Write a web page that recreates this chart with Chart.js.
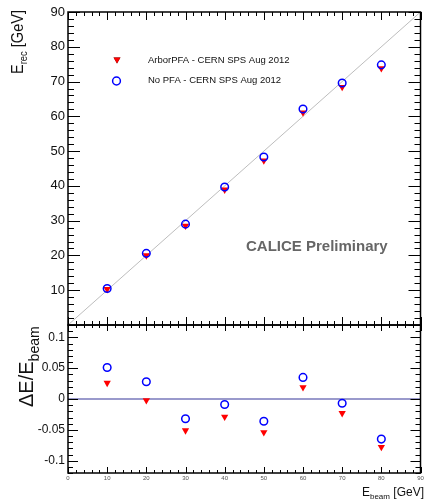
<!DOCTYPE html>
<html>
<head>
<meta charset="utf-8">
<script src="https://cdn.jsdelivr.net/npm/chart.js@4"></script>
<style>
  html, body { margin: 0; padding: 0; background: #fff; }
  #wrap { width: 426px; height: 500px; }
</style>
</head>
<body>
<div id="wrap"><canvas id="calice" width="426" height="500"></canvas></div>
<script>
const beamE = [10, 20, 30, 40, 50, 60, 70, 80];
const recNoPFA = [10.5, 20.6, 29.0, 39.7, 48.3, 62.1, 69.6, 74.8];
const recArbor = [10.3, 20.0, 28.5, 38.9, 47.3, 61.1, 68.4, 73.8];
const devNoPFA = [0.051, 0.028, -0.032, -0.009, -0.036, 0.035, -0.007, -0.065];
const devArbor = [0.026, -0.002, -0.051, -0.029, -0.054, 0.019, -0.023, -0.078];

const beamTicks = [0, 10, 20, 30, 40, 50, 60, 70, 80, 90];
const recTicks = [10, 20, 30, 40, 50, 60, 70, 80, 90];
const devTicks = [-0.1, -0.05, 0, 0.05, 0.1];

const FONT = '"Liberation Sans", Arial, Helvetica, sans-serif';

const pts = (ys) => beamE.map((x, i) => ({ x: x, y: ys[i] }));

// ROOT-style frame with inside ticks on all four sides
function drawPanel(chart, ys, yStep, yEvery, yLen, xLen) {
    const ctx = chart.ctx;
    const xs = chart.scales.x;
    const l = chart.chartArea.left, r = chart.chartArea.right;
    const t = ys.top, b = ys.bottom;
    ctx.save();
    ctx.strokeStyle = '#000';
    ctx.lineWidth = 1;
    ctx.beginPath();
    // y ticks
    const kMin = Math.ceil(ys.min / yStep - 1e-6), kMax = Math.floor(ys.max / yStep + 1e-6);
    for (let k = kMin; k <= kMax; k++) {
        const p = Math.round(ys.getPixelForValue(k * yStep)) + 0.5;
        const len = (k % yEvery === 0) ? yLen : yLen / 2;
        ctx.moveTo(l, p); ctx.lineTo(l + len, p);
        ctx.moveTo(r, p); ctx.lineTo(r - len, p);
    }
    // x ticks
    for (let k = 0; k <= 45; k++) {
        const p = Math.round(xs.getPixelForValue(k * 2)) + 0.5;
        const len = (k % 5 === 0) ? xLen : xLen / 2;
        ctx.moveTo(p, b); ctx.lineTo(p, b - len);
        ctx.moveTo(p, t); ctx.lineTo(p, t + len);
    }
    ctx.stroke();
    ctx.lineWidth = 1.5;
    ctx.strokeRect(l, t, r - l, b - t);
    ctx.restore();
}

// text made of runs: [text, size, baseline shift]
function drawRuns(ctx, x, y, runs) {
    let cx = x;
    runs.forEach(([txt, size, dy]) => {
        ctx.font = size + 'px ' + FONT;
        ctx.fillText(txt, cx, y + dy);
        cx += ctx.measureText(txt).width;
    });
    return cx - x;
}

function runsWidth(ctx, runs) {
    let w = 0;
    runs.forEach(([txt, size]) => {
        ctx.font = size + 'px ' + FONT;
        w += ctx.measureText(txt).width;
    });
    return w;
}

// rotated axis title squeezed to a given length
function drawVertical(ctx, x, y, runs, len) {
    ctx.save();
    ctx.translate(x, y);
    ctx.rotate(-Math.PI / 2);
    const w = runsWidth(ctx, runs);
    ctx.scale(Math.min(1, len / w), 1);
    drawRuns(ctx, 0, 0, runs);
    ctx.restore();
}

const decor = {
    id: 'decor',
    afterDraw(chart) {
        const ctx = chart.ctx;
        drawPanel(chart, chart.scales.y, 2, 5, 12, 8);
        drawPanel(chart, chart.scales.y2, 0.01, 5, 10, 6);

        ctx.save();
        ctx.fillStyle = '#111';
        ctx.textAlign = 'left';
        ctx.textBaseline = 'alphabetic';

        drawVertical(ctx, 22.5, 74, [['E', 17, 0], ['rec', 11, 4], [' [GeV]', 17, 0]], 64);
        drawVertical(ctx, 32.5, 407, [['\u0394E/E', 20, 0], ['beam', 14, 6]], 82);

        // x title
        const xRuns = [['E', 12, 0], ['beam', 8, 3], [' [GeV]', 12, 0]];
        drawRuns(ctx, 424 - runsWidth(ctx, xRuns), 496, xRuns);

        // legend
        ctx.textBaseline = 'middle';
        ctx.font = '9.5px ' + FONT;
        ctx.fillText('ArborPFA - CERN SPS Aug 2012', 148, 60);
        ctx.fillText('No PFA - CERN SPS Aug 2012', 148, 80.5);
        Chart.helpers.drawPoint(ctx, { pointStyle: 'triangle', rotation: 180, radius: 4, borderWidth: 0 }, 117, 59.5);
        ctx.fillStyle = '#ff0000';
        ctx.fill();
        ctx.strokeStyle = '#0000ff';
        ctx.lineWidth = 1.5;
        ctx.beginPath();
        ctx.arc(116.5, 81, 3.9, 0, Math.PI * 2);
        ctx.stroke();

        // label
        ctx.fillStyle = '#666';
        ctx.textBaseline = 'alphabetic';
        ctx.font = 'bold 15px ' + FONT;
        ctx.fillText('CALICE Preliminary', 246, 251);
        ctx.restore();
    }
};

const circleStyle = {
    pointStyle: 'circle', pointRadius: 3.8, pointBorderWidth: 1.5,
    pointBorderColor: '#0000ff', pointBackgroundColor: 'rgba(0,0,0,0)', showLine: false, order: 0
};
const triStyle = {
    pointStyle: 'triangle', pointRotation: 180, pointRadius: 4.2, pointBorderWidth: 0,
    pointBorderColor: '#ff0000', pointBackgroundColor: '#ff0000', showLine: false, order: 1
};

const yTickFont = (size) => ({ font: { family: FONT, size: size }, color: '#111', padding: 3 });

new Chart(document.getElementById('calice'), {
    type: 'scatter',
    data: {
        datasets: [
            Object.assign({ label: 'No PFA', data: pts(recNoPFA), yAxisID: 'y' }, circleStyle),
            Object.assign({ label: 'ArborPFA', data: pts(recArbor), yAxisID: 'y' }, triStyle),
            Object.assign({ label: 'No PFA dev', data: pts(devNoPFA), yAxisID: 'y2' }, circleStyle),
            Object.assign({ label: 'ArborPFA dev', data: pts(devArbor), yAxisID: 'y2' }, triStyle),
            {
                label: 'diagonal', data: [{ x: 0, y: 0 }, { x: 90, y: 90 }], yAxisID: 'y',
                showLine: true, borderColor: '#bdbdbd', borderWidth: 1, pointRadius: 0, order: 2
            },
            {
                label: 'zero', data: [{ x: 0, y: 0 }, { x: 90, y: 0 }], yAxisID: 'y2',
                showLine: true, borderColor: '#9a9acc', borderWidth: 2, pointRadius: 0, order: 2
            }
        ]
    },
    options: {
        responsive: false,
        animation: false,
        devicePixelRatio: 1,
        layout: { padding: { top: 12, right: 2, left: 0, bottom: 0 } },
        plugins: { legend: { display: false }, tooltip: { enabled: false } },
        scales: {
            x: {
                type: 'linear', min: 0, max: 90, bounds: 'data',
                afterBuildTicks: s => { s.ticks = beamTicks.map(v => ({ value: v })); },
                afterFit: s => { s.height = 27; },
                grid: { display: false, drawTicks: false },
                border: { display: false },
                ticks: { font: { family: FONT, size: 6 }, color: '#555', padding: 2, maxRotation: 0, autoSkip: false, callback: v => String(v) }
            },
            y: {
                type: 'linear', position: 'left', stack: 'panels', stackWeight: 313, weight: 1,
                min: 0, max: 90, bounds: 'data',
                afterBuildTicks: s => { s.ticks = recTicks.map(v => ({ value: v })); },
                afterFit: s => { s.width = 68; },
                grid: { display: false, drawTicks: false },
                border: { display: false },
                ticks: Object.assign(yTickFont(13), { autoSkip: false, callback: v => String(v) })
            },
            y2: {
                type: 'linear', position: 'left', stack: 'panels', stackWeight: 148, weight: 0,
                min: -0.12, max: 0.12, bounds: 'data',
                afterBuildTicks: s => { s.ticks = devTicks.map(v => ({ value: v })); },
                afterFit: s => { s.width = 68; },
                grid: { display: false, drawTicks: false },
                border: { display: false },
                ticks: Object.assign(yTickFont(12), { autoSkip: false, callback: v => String(v) })
            }
        }
    },
    plugins: [decor]
});
</script>
</body>
</html>
